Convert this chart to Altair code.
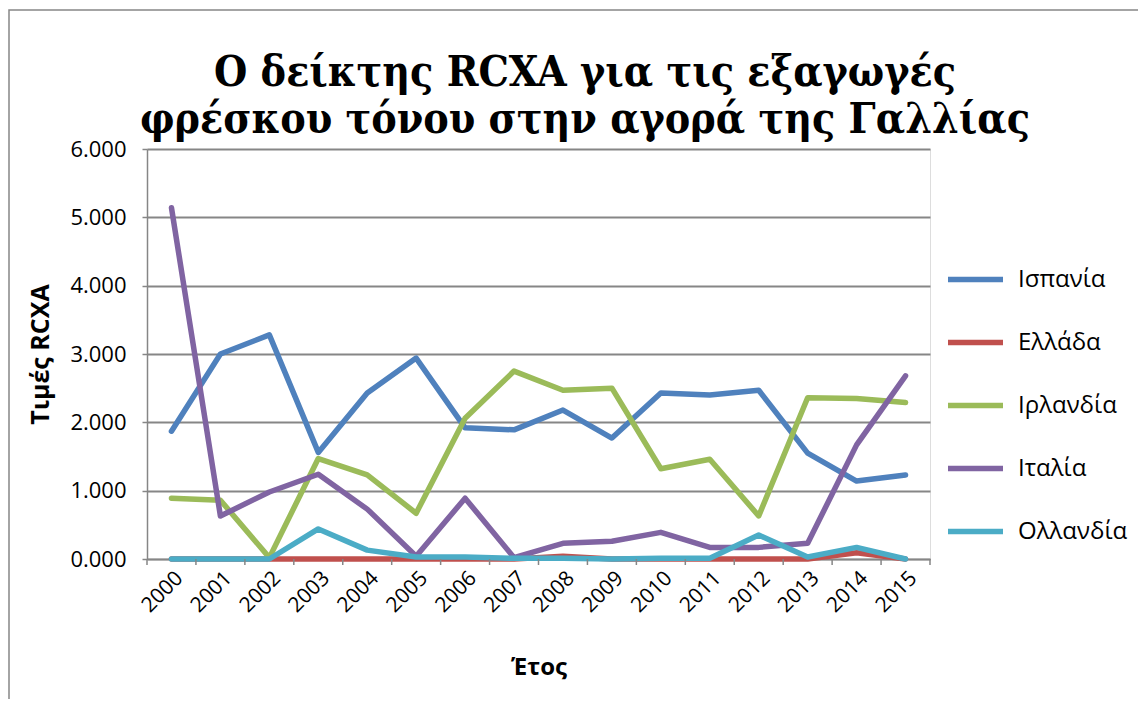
import altair as alt
import pandas as pd

years = [str(y) for y in range(2000, 2016)]
countries = ["Ισπανία", "Ελλάδα", "Ιρλανδία", "Ιταλία", "Ολλανδία"]
colors = ["#4F81BD", "#C0504D", "#9BBB59", "#8064A2", "#4BACC6"]
title_lines = ["Ο δείκτης RCXA για τις εξαγωγές", "φρέσκου τόνου στην αγορά της Γαλλίας"]

spain = [1.87, 3.00, 3.28, 1.56, 2.43, 2.94, 1.92, 1.89, 2.18, 1.77, 2.43, 2.40, 2.47, 1.55, 1.14, 1.23]
greece = [0.00, 0.00, 0.00, 0.00, 0.00, 0.00, 0.00, 0.00, 0.04, 0.00, 0.00, 0.00, 0.00, 0.00, 0.09, 0.00]
ireland = [0.89, 0.86, 0.02, 1.47, 1.23, 0.67, 2.06, 2.75, 2.47, 2.50, 1.32, 1.46, 0.63, 2.36, 2.35, 2.29]
italy = [5.14, 0.63, 0.98, 1.24, 0.73, 0.04, 0.89, 0.02, 0.23, 0.26, 0.39, 0.17, 0.17, 0.23, 1.67, 2.68]
netherlands = [0.00, 0.00, 0.00, 0.44, 0.13, 0.03, 0.03, 0.01, 0.01, 0.00, 0.01, 0.01, 0.35, 0.03, 0.17, 0.00]

series = [spain, greece, ireland, italy, netherlands]
rows = []
for ci, (name, vals) in enumerate(zip(countries, series)):
    for y, v in zip(years, vals):
        rows.append({"year": int(y), "country": name, "value": v, "order": ci})
df = pd.DataFrame(rows)

W, H = 783, 410
FONT = "Open Sans"
TFONT = "DejaVu Serif Condensed"

xscale = alt.Scale(domain=[1999.5, 2015.5], nice=False, zero=False)

lines = alt.Chart(df).mark_line(strokeWidth=5.5, strokeJoin="round", strokeCap="round").encode(
    x=alt.X("year:Q", scale=xscale,
            axis=alt.Axis(values=[int(y) for y in years], format="d", tickSize=0,
                          labelAngle=-45, labelFontSize=21, labelFont=FONT, labelColor="#000",
                          labelPadding=8, labelOverlap=False, grid=False,
                          domainColor="#868686", domainWidth=1.5,
                          title="Έτος", titleFont=FONT, titleFontSize=24, titleFontWeight="bold",
                          titleColor="#000", titlePadding=40)),
    y=alt.Y("value:Q", scale=alt.Scale(domain=[0, 6], nice=False),
            axis=alt.Axis(values=[0, 1, 2, 3, 4, 5, 6], format=".3f", tickSize=5,
                          tickColor="#868686", tickWidth=1.5, labelFontSize=22, labelFont=FONT,
                          labelColor="#000", labelPadding=16, gridColor="#868686", gridWidth=1.8,
                          domainColor="#868686", domainWidth=1.5,
                          title="Τιμές RCXA", titleFont=FONT, titleFontSize=25,
                          titleFontWeight="bold", titleColor="#000", titlePadding=16)),
    color=alt.Color("country:N", sort=countries,
                    scale=alt.Scale(domain=countries, range=colors),
                    legend=alt.Legend(title=None, orient="none", legendX=798, legendY=100,
                                      symbolType="stroke", symbolSize=3025, symbolStrokeWidth=5.5,
                                      labelFontSize=24, labelFont=FONT, labelColor="#000",
                                      rowPadding=20, labelOffset=12)),
    order=alt.Order("order:Q"),
    detail="country:N",
)

bounds = pd.DataFrame({"b": [1999.5 + i for i in range(17)]})
xticks = alt.Chart(bounds).mark_rule(color="#868686", strokeWidth=1.5).encode(
    x=alt.X("b:Q", scale=xscale),
    y=alt.value(H),
    y2=alt.value(H + 6),
)

frame = alt.Chart(pd.DataFrame({"a": [0]})).mark_rect(
    fill=None, stroke="#868686", strokeWidth=1.5
).encode(
    x=alt.value(-138), x2=alt.value(993), y=alt.value(-139), y2=alt.value(600)
)

tdf = pd.DataFrame({"t": title_lines, "i": [0, 1]})
t1 = alt.Chart(tdf.iloc[[0]]).mark_text(
    font=TFONT, fontSize=42.5, fontWeight="bold", color="#000",
    align="center", baseline="alphabetic"
).encode(text="t:N", x=alt.value(438), y=alt.value(-63))
t2 = alt.Chart(tdf.iloc[[1]]).mark_text(
    font=TFONT, fontSize=42.5, fontWeight="bold", color="#000",
    align="center", baseline="alphabetic"
).encode(text="t:N", x=alt.value(438), y=alt.value(-16))

chart = alt.layer(frame, lines, xticks, t1, t2).properties(
    width=W, height=H,
    autosize=alt.AutoSizeParams(type="none"),
    padding={"left": 139, "top": 141, "right": 208, "bottom": 140},
).configure_view(stroke=None).configure(background="white")

chart.save("out.html", embed_options={"renderer": "svg", "actions": False})
